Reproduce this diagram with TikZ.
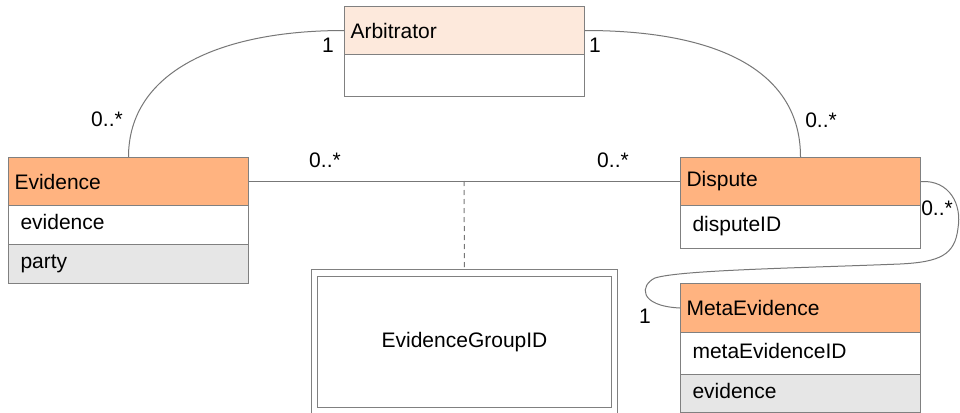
\documentclass[tikz,border=0pt]{standalone}
\usepackage{fontspec}
\setmainfont{Liberation Sans}
\definecolor{headorange}{HTML}{FFB380}
\definecolor{headlight}{HTML}{FDE9DC}
\definecolor{rowgray}{HTML}{E6E6E6}
\definecolor{boxline}{HTML}{808080}
\definecolor{conline}{HTML}{777777}
\begin{document}
\begin{tikzpicture}[x=1pt,y=-1pt,
  box/.style={draw=boxline, line width=1pt, rectangle, anchor=north west,
    minimum width=240pt, inner ysep=0pt, inner xsep=6pt, text width=228pt,
    align=left, font=\fontsize{21}{25}\selectfont},
  head/.style={box, fill=headorange, minimum height=48pt},
  lighthead/.style={box, fill=headlight, minimum height=48pt},
  attr/.style={box, fill=white, inner xsep=12pt, text width=216pt,
    text height=15pt, text depth=6pt},
  grayattr/.style={attr, fill=rowgray},
  conn/.style={draw=conline, line width=1pt},
  mult/.style={font=\fontsize{21}{25}\selectfont, inner sep=0pt}
]
\useasboundingbox (0,0) rectangle (960,412);
\fill[white] (0,0) rectangle (960,412);

% Arbitrator
\node[lighthead] (arh) at (344,6) {Arbitrator};
\node[attr, minimum height=42pt] (arb) at (344,54) {};

% Evidence
\node[head] (evh) at (8,157) {Evidence};
\node[attr, minimum height=39pt] (eva) at (8,205) {evidence};
\node[grayattr, minimum height=39pt] (evb) at (8,244) {party};

% Dispute
\node[head] (dih) at (680,157) {Dispute};
\node[attr, minimum height=43pt] (dia) at (680,205) {disputeID};

% MetaEvidence
\node[head, minimum height=49pt] (meh) at (680,283) {MetaEvidence};
\node[attr, minimum height=42pt] (mea) at (680,332) {metaEvidenceID};
\node[grayattr, minimum height=38pt] (meb) at (680,374) {evidence};

% EvidenceGroupID
\node[draw=boxline, line width=1pt, rectangle, anchor=north west,
  minimum width=306pt, minimum height=160pt, inner sep=0pt] (ego) at (311,269) {};
\node[draw=boxline, line width=1pt, rectangle, anchor=north west,
  minimum width=294pt, minimum height=131pt, inner sep=0pt,
  font=\fontsize{21}{25}\selectfont] (egi) at (317,276) {EvidenceGroupID};

% connectors
\coordinate (mid) at (464,181);
\draw[conn] (evh.east) -- (dih.west);
\draw[conn, dashed, dash pattern=on 5pt off 4pt] (mid) -- (ego.north);
\draw[conn] (evh.north) .. controls +(0,-85) and +(-125,0) .. (arh.west);
\draw[conn] (arh.east) .. controls +(135,0) and +(0,-85) .. (dih.north);
\draw[conn] (dih.east) .. controls (950,180) and (962,205) .. (958,228)
  .. controls (955,255) and (940,262) .. (900,264)
  .. controls (800,268) and (680,270) .. (655,278)
  .. controls (640,285) and (638,306) .. (meh.west);

% multiplicities
\node[mult] (m1) at (328,45) {1};
\node[mult] (m2) at (595,45) {1};
\node[mult] (m3) at (107,119) {0..*};
\node[mult] (m4) at (821,120) {0..*};
\node[mult] (m5) at (325,160) {0..*};
\node[mult] (m6) at (613,160) {0..*};
\node[mult] (m7) at (937,208) {0..*};
\node[mult] (m8) at (645,316) {1};
\end{tikzpicture}
\end{document}
